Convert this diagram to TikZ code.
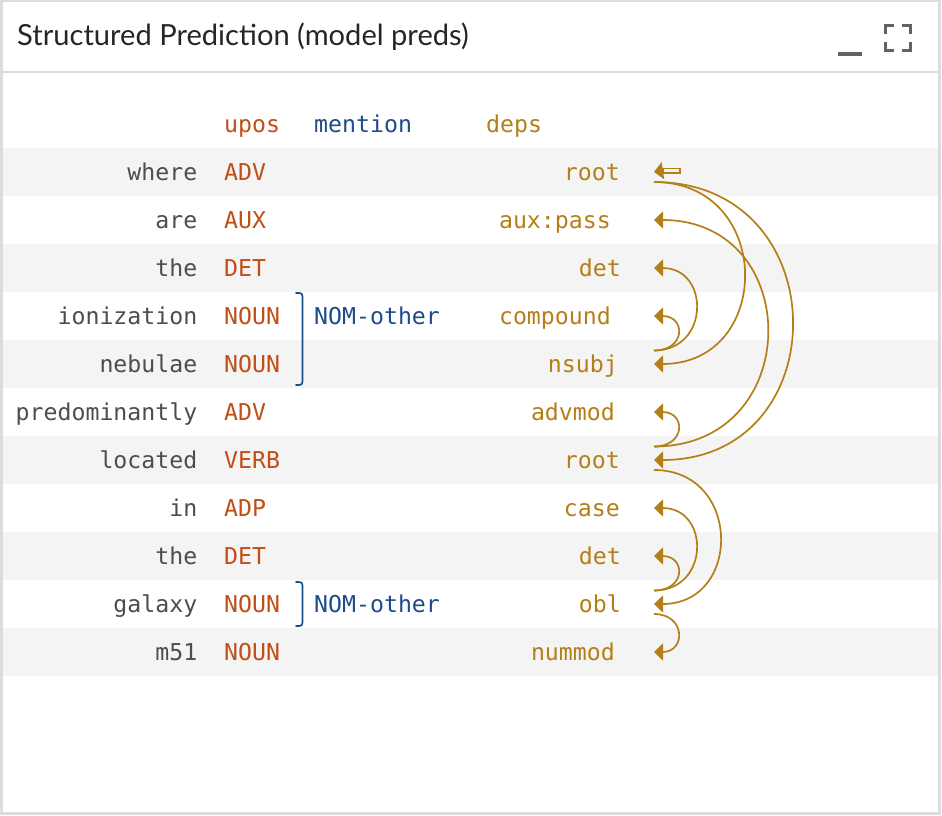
\documentclass[tikz,border=0pt]{standalone}
\usepackage{fontspec}
\setmainfont{Lato}
\setmonofont{DejaVu Sans Mono}
\usetikzlibrary{arrows.meta}
\definecolor{framecol}{HTML}{DADCE0}
\definecolor{rowcol}{HTML}{F4F4F4}
\definecolor{iconcol}{HTML}{5F6368}
\definecolor{wordcol}{HTML}{4D4D4D}
\definecolor{poscol}{HTML}{C24E16}
\definecolor{mentcol}{HTML}{1D4C8C}
\definecolor{depcol}{HTML}{B47F17}
\tikzset{
  tok/.style={font=\ttfamily\fontsize{23.2}{27}\selectfont, inner sep=0pt},
  deparc/.style={depcol, line width=1.7, -{Triangle[length=9pt,width=17pt]}},
  brace/.style={mentcol, line width=1.7, line cap=round},
}

\begin{document}
\begin{tikzpicture}[x=1pt,y=-1pt]
  \useasboundingbox (0,0) rectangle (942,816);
  % panel
  \fill[white] (0,0) rectangle (942,816);
  \foreach \i in {1,3,...,11}
    \fill[rowcol] (2,100+48*\i) rectangle (938,148+48*\i);
  \draw[framecol, line width=2.5] (1.25,1.25) rectangle (939.5,813.5);
  \draw[framecol, line width=2] (2,72) -- (938,72);
  \node[anchor=base west, inner sep=0pt, text=black!85, font=\fontsize{29.1}{34}\selectfont] (title) at (17,46) {Structured Prediction (model preds)};
  \fill[iconcol] (838,52) rectangle (862,56);
  \draw[iconcol, line width=3] (885.5,34) -- (885.5,25.5) -- (894,25.5)
    (902,25.5) -- (910.5,25.5) -- (910.5,34)
    (910.5,42) -- (910.5,50.5) -- (902,50.5)
    (894,50.5) -- (885.5,50.5) -- (885.5,42);
  % header
  \node[tok, poscol, anchor=base west] (hpos) at (224,132.5) {upos};
  \node[tok, mentcol, anchor=base west] (hment) at (314,132.5) {mention};
  \node[tok, depcol, anchor=base west] (hdep) at (486,132.5) {deps};
  % tokens
  \foreach \word/\pos/\dep/\xr [count=\i] in {where/ADV/root/620, are/AUX/aux:pass/611,
      the/DET/det/621, ionization/NOUN/compound/611, nebulae/NOUN/nsubj/618,
      predominantly/ADV/advmod/615, located/VERB/root/620, in/ADP/case/620,
      the/DET/det/621, galaxy/NOUN/obl/621, m51/NOUN/nummod/615} {
    \node[tok, wordcol, anchor=base east] (w\i) at (197.5,132.5+48*\i) {\word};
    \node[tok, poscol, anchor=base west] (p\i) at (224,132.5+48*\i) {\pos};
    \node[tok, depcol, anchor=base east] (d\i) at (\xr,132.5+48*\i) {\dep};
    \coordinate (t\i) at (654,124+48*\i);
    \coordinate (b\i) at (654,134+48*\i);
    \coordinate (a\i) at (654,110.5+48*\i);
  }
  % mentions
  \node[tok, mentcol, anchor=base west] (m1) at (314,324.5) {NOM-other};
  \node[tok, mentcol, anchor=base west] (m2) at (314,612.5) {NOM-other};
  \draw[brace] (296,293) .. controls (302.5,293) .. (302.5,300) -- (302.5,378)
    .. controls (302.5,385) .. (296,385);
  \draw[brace] (296,582) .. controls (302.5,582) .. (302.5,589) -- (302.5,619)
    .. controls (302.5,626) .. (296,626);
  % arcs
  \node[draw=depcol, line width=1.2, minimum width=17pt, minimum height=4.5pt, inner sep=0pt] (rootbox) at (671.5,170.75) {};
  \draw[deparc] (rootbox.west) -- (t1);
  \foreach \s/\e/\c in {b1/t5/120, b1/t7/184, a7/t2/151, a7/t6/32, a5/t3/56,
      a5/t4/32, b7/t10/88, a10/t8/56, a10/t9/32, b10/t11/32}
    \draw[deparc] (\s) .. controls +(\c,0) and +(\c,0) .. (\e);
\end{tikzpicture}
\end{document}
